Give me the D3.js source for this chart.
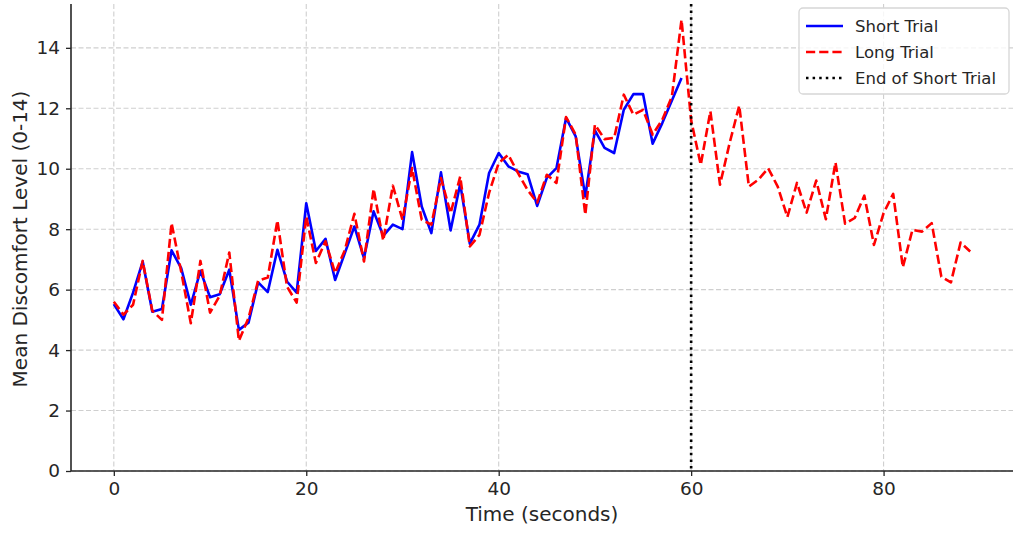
<!DOCTYPE html>
<html>
<head>
<meta charset="utf-8">
<script src="https://cdn.jsdelivr.net/npm/d3@7"></script>
<style>
  body { margin: 0; background: #fff; }
  text { font-family: "DejaVu Sans", sans-serif; fill: #262626; }
</style>
</head>
<body>
<div class="chart"></div>
<script>
// mean discomfort per second
let shortTrial = [
  5.52, 5.02, 5.9, 6.93, 5.27, 5.36, 7.3, 6.71, 5.5, 6.62,
  5.75, 5.85, 6.66, 4.67, 4.91, 6.24, 5.92, 7.32, 6.27, 5.9,
  8.86, 7.28, 7.68, 6.32, 7.2, 8.09, 7.04, 8.59, 7.78, 8.15,
  8.0, 10.55, 8.75, 7.87, 9.88, 7.96, 9.5, 7.52, 8.15, 9.86,
  10.52, 10.08, 9.91, 9.82, 8.77, 9.7, 10.02, 11.68, 11.07, 9.08,
  11.27, 10.69, 10.52, 11.95, 12.47, 12.47, 10.83, 11.51, 12.26, 13.0
];
let longTrial = [
  5.6, 5.17, 5.5, 6.95, 5.3, 5.0, 8.2, 6.6, 4.89, 6.95,
  5.24, 5.8, 7.23, 4.31, 5.06, 6.3, 6.4, 8.29, 6.1, 5.57,
  8.42, 6.88, 7.6, 6.55, 7.3, 8.51, 6.93, 9.33, 7.62, 9.44,
  8.31, 10.02, 8.31, 8.15, 9.69, 8.53, 9.74, 7.43, 7.81, 9.2,
  10.19, 10.46, 9.86, 9.3, 8.88, 9.8, 9.53, 11.71, 11.13, 8.48,
  11.46, 10.98, 11.02, 12.45, 11.79, 11.95, 11.13, 11.62, 12.39, 14.93,
  11.6, 10.13, 11.9, 9.47, 10.85, 12.09, 9.41, 9.64, 10.02, 9.41,
  8.4, 9.53, 8.55, 9.61, 8.33, 10.21, 8.18, 8.37, 9.11, 7.48,
  8.53, 9.17, 6.74, 7.98, 7.92, 8.2, 6.43, 6.24, 7.56, 7.26
];
let shortEnd = 60;
let xTicks = [0, 20, 40, 60, 80];
let yTicks = [0, 2, 4, 6, 8, 10, 12, 14];
let legendLabels = ['Short Trial', 'Long Trial', 'End of Short Trial'];

let width = 1024;
let height = 533;
let plotLeft = 71, plotRight = 1013, plotTop = 4, plotBottom = 471;

let svg = d3.select('.chart')
            .append('svg')
            .attr('width', width)
            .attr('height', height);

let x = d3.scaleLinear().domain([-4.45, 93.45]).range([plotLeft, plotRight]);
let y = d3.scaleLinear().domain([0, 15.45]).range([plotBottom, plotTop]);

// grid
svg.append('g')
   .selectAll('line')
   .data(xTicks)
   .enter()
   .append('line')
   .attr('x1', d => x(d)).attr('x2', d => x(d))
   .attr('y1', plotTop).attr('y2', plotBottom)
   .attr('stroke', '#cfcfcf').attr('stroke-width', 1.1)
   .attr('stroke-dasharray', '5,2.5');
svg.append('g')
   .selectAll('line')
   .data(yTicks)
   .enter()
   .append('line')
   .attr('x1', plotLeft).attr('x2', plotRight)
   .attr('y1', d => y(d)).attr('y2', d => y(d))
   .attr('stroke', '#cfcfcf').attr('stroke-width', 1.1)
   .attr('stroke-dasharray', '5,2.5');

let xAxis = d3.axisBottom(x).tickValues(xTicks).tickSize(5).tickPadding(6);
let yAxis = d3.axisLeft(y).tickValues(yTicks).tickSize(5).tickPadding(6);

let gx = svg.append('g')
            .attr('transform', 'translate(0,' + plotBottom + ')')
            .call(xAxis);
let gy = svg.append('g')
            .attr('transform', 'translate(' + plotLeft + ',0)')
            .call(yAxis);
[gx, gy].forEach(g => {
  g.select('.domain').attr('stroke', '#262626').attr('stroke-width', 1.6);
  g.selectAll('.tick line').attr('stroke', '#262626').attr('stroke-width', 1.3);
  g.selectAll('.tick text')
   .style('font-family', '"DejaVu Sans", sans-serif')
   .style('font-size', '18.5px')
   .attr('fill', '#262626');
});
// spines span the whole axes box
gx.select('.domain').attr('d', 'M' + plotLeft + ',0H' + plotRight);
gy.select('.domain').attr('d', 'M0,' + plotTop + 'V' + plotBottom);

svg.append('text')
   .attr('x', (plotLeft + plotRight) / 2)
   .attr('y', 521)
   .attr('text-anchor', 'middle')
   .style('font-size', '20px')
   .text('Time (seconds)');
svg.append('text')
   .attr('transform', 'translate(27,239) rotate(-90)')
   .attr('text-anchor', 'middle')
   .style('font-size', '20px')
   .text('Mean Discomfort Level (0-14)');

let line = d3.line()
             .x((d, i) => x(i))
             .y(d => y(d));

svg.append('path')
   .datum(shortTrial)
   .attr('d', line)
   .attr('fill', 'none')
   .attr('stroke', '#0000ff')
   .attr('stroke-width', 2.6)
   .attr('stroke-linejoin', 'round');
svg.append('path')
   .datum(longTrial)
   .attr('d', line)
   .attr('fill', 'none')
   .attr('stroke', '#ff0000')
   .attr('stroke-width', 2.6)
   .attr('stroke-dasharray', '9.2,4')
   .attr('stroke-linejoin', 'round');

svg.append('line')
   .attr('x1', x(shortEnd)).attr('x2', x(shortEnd))
   .attr('y1', plotTop).attr('y2', plotBottom)
   .attr('stroke', '#000')
   .attr('stroke-width', 2.6)
   .attr('stroke-dasharray', '2.5,4.1');

// legend
let legend = svg.append('g').attr('transform', 'translate(799,8)');
legend.append('rect')
      .attr('width', 210).attr('height', 86)
      .attr('rx', 4)
      .attr('fill', 'rgba(255,255,255,0.8)')
      .attr('stroke', '#d6d6d6')
      .attr('stroke-width', 1.3);
let styles = [
  {stroke: '#0000ff', dash: null},
  {stroke: '#ff0000', dash: '9.2,4'},
  {stroke: '#000', dash: '2.5,4.1'}
];
legendLabels.forEach((lab, i) => {
  let yy = 18 + i * 26;
  legend.append('line')
        .attr('x1', 7).attr('x2', 44)
        .attr('y1', yy).attr('y2', yy)
        .attr('stroke', styles[i].stroke)
        .attr('stroke-width', 2.6)
        .attr('stroke-dasharray', styles[i].dash);
  legend.append('text')
        .attr('x', 56).attr('y', yy)
        .attr('dy', '0.35em')
        .style('font-size', '16.5px')
        .text(lab);
});
</script>
</body>
</html>
